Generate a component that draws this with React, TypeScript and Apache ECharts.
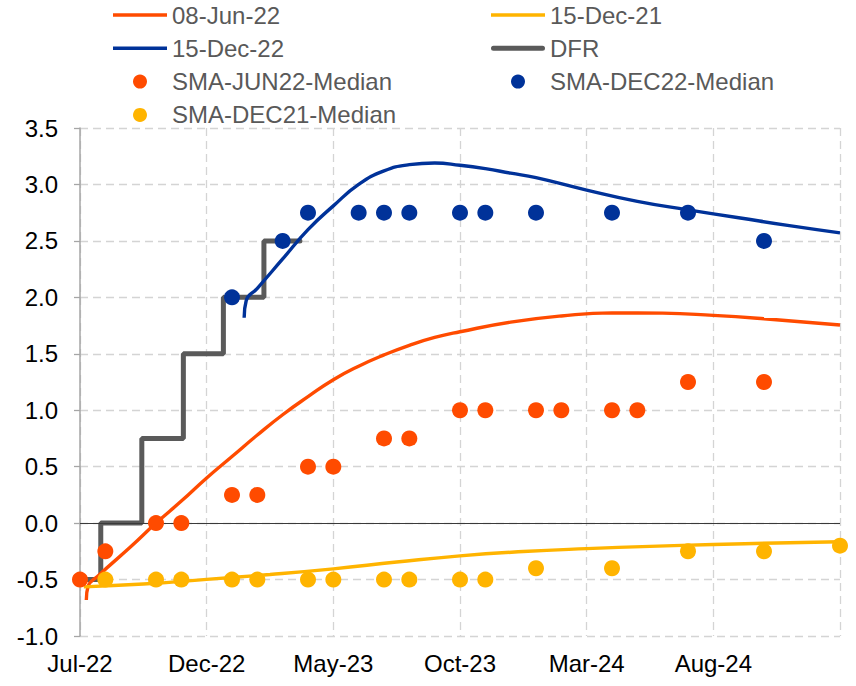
import React, { useEffect, useRef } from 'react';
import * as echarts from 'echarts';

// x values are months since Jul-2022
const X_TICK_LABELS = ['Jul-22', 'Dec-22', 'May-23', 'Oct-23', 'Mar-24', 'Aug-24'];

const DFR_X = [0, 0.82, 2.44, 4.08, 5.66, 7.26, 8.68];
const DFR_Y = [-0.5, 0.0, 0.75, 1.5, 2.0, 2.5, 2.5];

const JUN22_CURVE_X = [0.25, 0.32, 0.7, 2, 3, 4, 5, 6, 7, 8, 9, 10, 11, 12, 13, 14, 15, 17, 19, 21, 23, 25, 27, 30];
const JUN22_CURVE_Y = [-0.68, -0.56, -0.47, -0.21, 0.0, 0.195, 0.4, 0.59, 0.78, 0.96, 1.12, 1.27, 1.39, 1.49, 1.575, 1.645, 1.695, 1.78, 1.835, 1.862, 1.86, 1.84, 1.81, 1.755];

const DEC21_CURVE_X = [0.15, 2.5, 5, 7.5, 10, 12.5, 15, 17.5, 20, 22.5, 25, 27.5, 30];
const DEC21_CURVE_Y = [-0.565, -0.54, -0.498, -0.455, -0.405, -0.345, -0.29, -0.252, -0.226, -0.206, -0.19, -0.176, -0.165];

const DEC22_CURVE_X = [6.48, 6.56, 7, 8, 9, 10, 11, 12, 13, 14, 15, 16, 17, 18, 20, 22, 24, 26, 28, 30];
const DEC22_CURVE_Y = [1.82, 1.97, 2.08, 2.34, 2.6, 2.81, 3.0, 3.12, 3.175, 3.19, 3.17, 3.14, 3.1, 3.06, 2.95, 2.85, 2.775, 2.705, 2.635, 2.571];

const SMA_JUN22_X = [0, 1, 3, 4, 6, 7, 9, 10, 12, 13, 15, 16, 18, 19, 21, 22, 24, 27];
const SMA_JUN22_Y = [-0.5, -0.25, 0, 0, 0.25, 0.25, 0.5, 0.5, 0.75, 0.75, 1, 1, 1, 1, 1, 1, 1.25, 1.25];

const SMA_DEC22_X = [6, 8, 9, 11, 12, 13, 15, 16, 18, 21, 24, 27];
const SMA_DEC22_Y = [2.0, 2.5, 2.75, 2.75, 2.75, 2.75, 2.75, 2.75, 2.75, 2.75, 2.75, 2.5];

const SMA_DEC21_X = [1, 3, 4, 6, 7, 9, 10, 12, 13, 15, 16, 18, 21, 24, 27, 30];
const SMA_DEC21_Y = [-0.5, -0.5, -0.5, -0.5, -0.5, -0.5, -0.5, -0.5, -0.5, -0.5, -0.5, -0.4, -0.4, -0.25, -0.25, -0.2];

const zip = (xs: number[], ys: number[]) => xs.map((x, i) => [x, ys[i]]);

const FONT = "'Liberation Sans', Arial, sans-serif";
const ORANGE = '#FF4B00';
const YELLOW = '#FFB400';
const BLUE = '#003299';
const GRAY = '#5A5A5A';

const LINE_ICON = 'path://M0 0H54V3.4H0Z';
const DFR_ICON = 'path://M2.5 0H51.5A2.5 2.5 0 0 1 51.5 5H2.5A2.5 2.5 0 0 1 2.5 0Z';

export default function App() {
  const ref = useRef<HTMLDivElement>(null);
  useEffect(() => {
    document.body.style.margin = '0';
    const chart = echarts.init(ref.current!, null, { renderer: 'svg' });
    const legendCommon = {
      orient: 'vertical',
      top: 2,
      padding: 0,
      itemWidth: 54,
      itemHeight: 14,
      itemGap: 7.3,
      textStyle: { fontSize: 24, color: '#595959', fontFamily: FONT, lineHeight: 26 },
    };
    const curve = (name: string, xs: number[], ys: number[], color: string) => ({
      name,
      type: 'line',
      data: zip(xs, ys),
      symbol: 'none',
      smooth: 0.5,
      lineStyle: { color, width: 3.4 },
      itemStyle: { color },
      z: 3,
    });
    const dots = (name: string, xs: number[], ys: number[], color: string) => ({
      name,
      type: 'scatter',
      data: zip(xs, ys),
      symbol: 'circle',
      symbolSize: 16,
      itemStyle: { color, opacity: 1 },
      z: 5,
    });
    chart.setOption({
      animation: false,
      textStyle: { fontFamily: FONT },
      legend: [
        {
          ...legendCommon,
          left: 113,
          data: [
            { name: '08-Jun-22', icon: LINE_ICON },
            { name: '15-Dec-22', icon: LINE_ICON },
            { name: 'SMA-JUN22-Median', icon: 'circle' },
            { name: 'SMA-DEC21-Median', icon: 'circle' },
          ],
        },
        {
          ...legendCommon,
          left: 491,
          data: [
            { name: '15-Dec-21', icon: LINE_ICON },
            { name: 'DFR', icon: DFR_ICON },
            { name: 'SMA-DEC22-Median', icon: 'circle' },
          ],
        },
      ],
      grid: { left: 80, right: 16, top: 128, bottom: 50, containLabel: false, outerBoundsMode: 'none' },
      xAxis: {
        type: 'value',
        min: 0,
        max: 30,
        interval: 5,
        axisLine: { show: false },
        axisTick: { show: false },
        axisLabel: {
          margin: 15,
          fontSize: 24,
          color: '#000',
          fontFamily: FONT,
          formatter: (v: number) => X_TICK_LABELS[Math.round(v / 5)] ?? '',
        },
        splitLine: { show: true, lineStyle: { color: '#d4d4d4', width: 1.3, type: [8, 5] } },
      },
      yAxis: {
        type: 'value',
        min: -1,
        max: 3.5,
        interval: 0.5,
        axisLine: { show: true, lineStyle: { color: '#a6a6a6', width: 1.5 } },
        axisTick: { show: true, length: 6, lineStyle: { color: '#a6a6a6', width: 1.3 } },
        axisLabel: {
          margin: 22,
          fontSize: 24,
          color: '#000',
          fontFamily: FONT,
          formatter: (v: number) => v.toFixed(1),
        },
        splitLine: { show: true, lineStyle: { color: '#d4d4d4', width: 1.3, type: [8, 5] } },
      },
      series: [
        {
          name: 'DFR',
          type: 'line',
          step: 'end',
          data: zip(DFR_X, DFR_Y),
          symbol: 'none',
          lineStyle: { color: GRAY, width: 5, cap: 'round' },
          itemStyle: { color: GRAY },
          z: 2,
          markLine: {
            silent: true,
            symbol: 'none',
            label: { show: false },
            lineStyle: { color: '#3a3a3a', width: 1.2, type: 'solid' },
            data: [{ yAxis: 0 }],
          },
        },
        curve('08-Jun-22', JUN22_CURVE_X, JUN22_CURVE_Y, ORANGE),
        curve('15-Dec-21', DEC21_CURVE_X, DEC21_CURVE_Y, YELLOW),
        curve('15-Dec-22', DEC22_CURVE_X, DEC22_CURVE_Y, BLUE),
        dots('SMA-JUN22-Median', SMA_JUN22_X, SMA_JUN22_Y, ORANGE),
        dots('SMA-DEC22-Median', SMA_DEC22_X, SMA_DEC22_Y, BLUE),
        dots('SMA-DEC21-Median', SMA_DEC21_X, SMA_DEC21_Y, YELLOW),
      ],
    });
    return () => chart.dispose();
  }, []);
  return <div ref={ref} style={{ width: 856, height: 686 }} />;
}
